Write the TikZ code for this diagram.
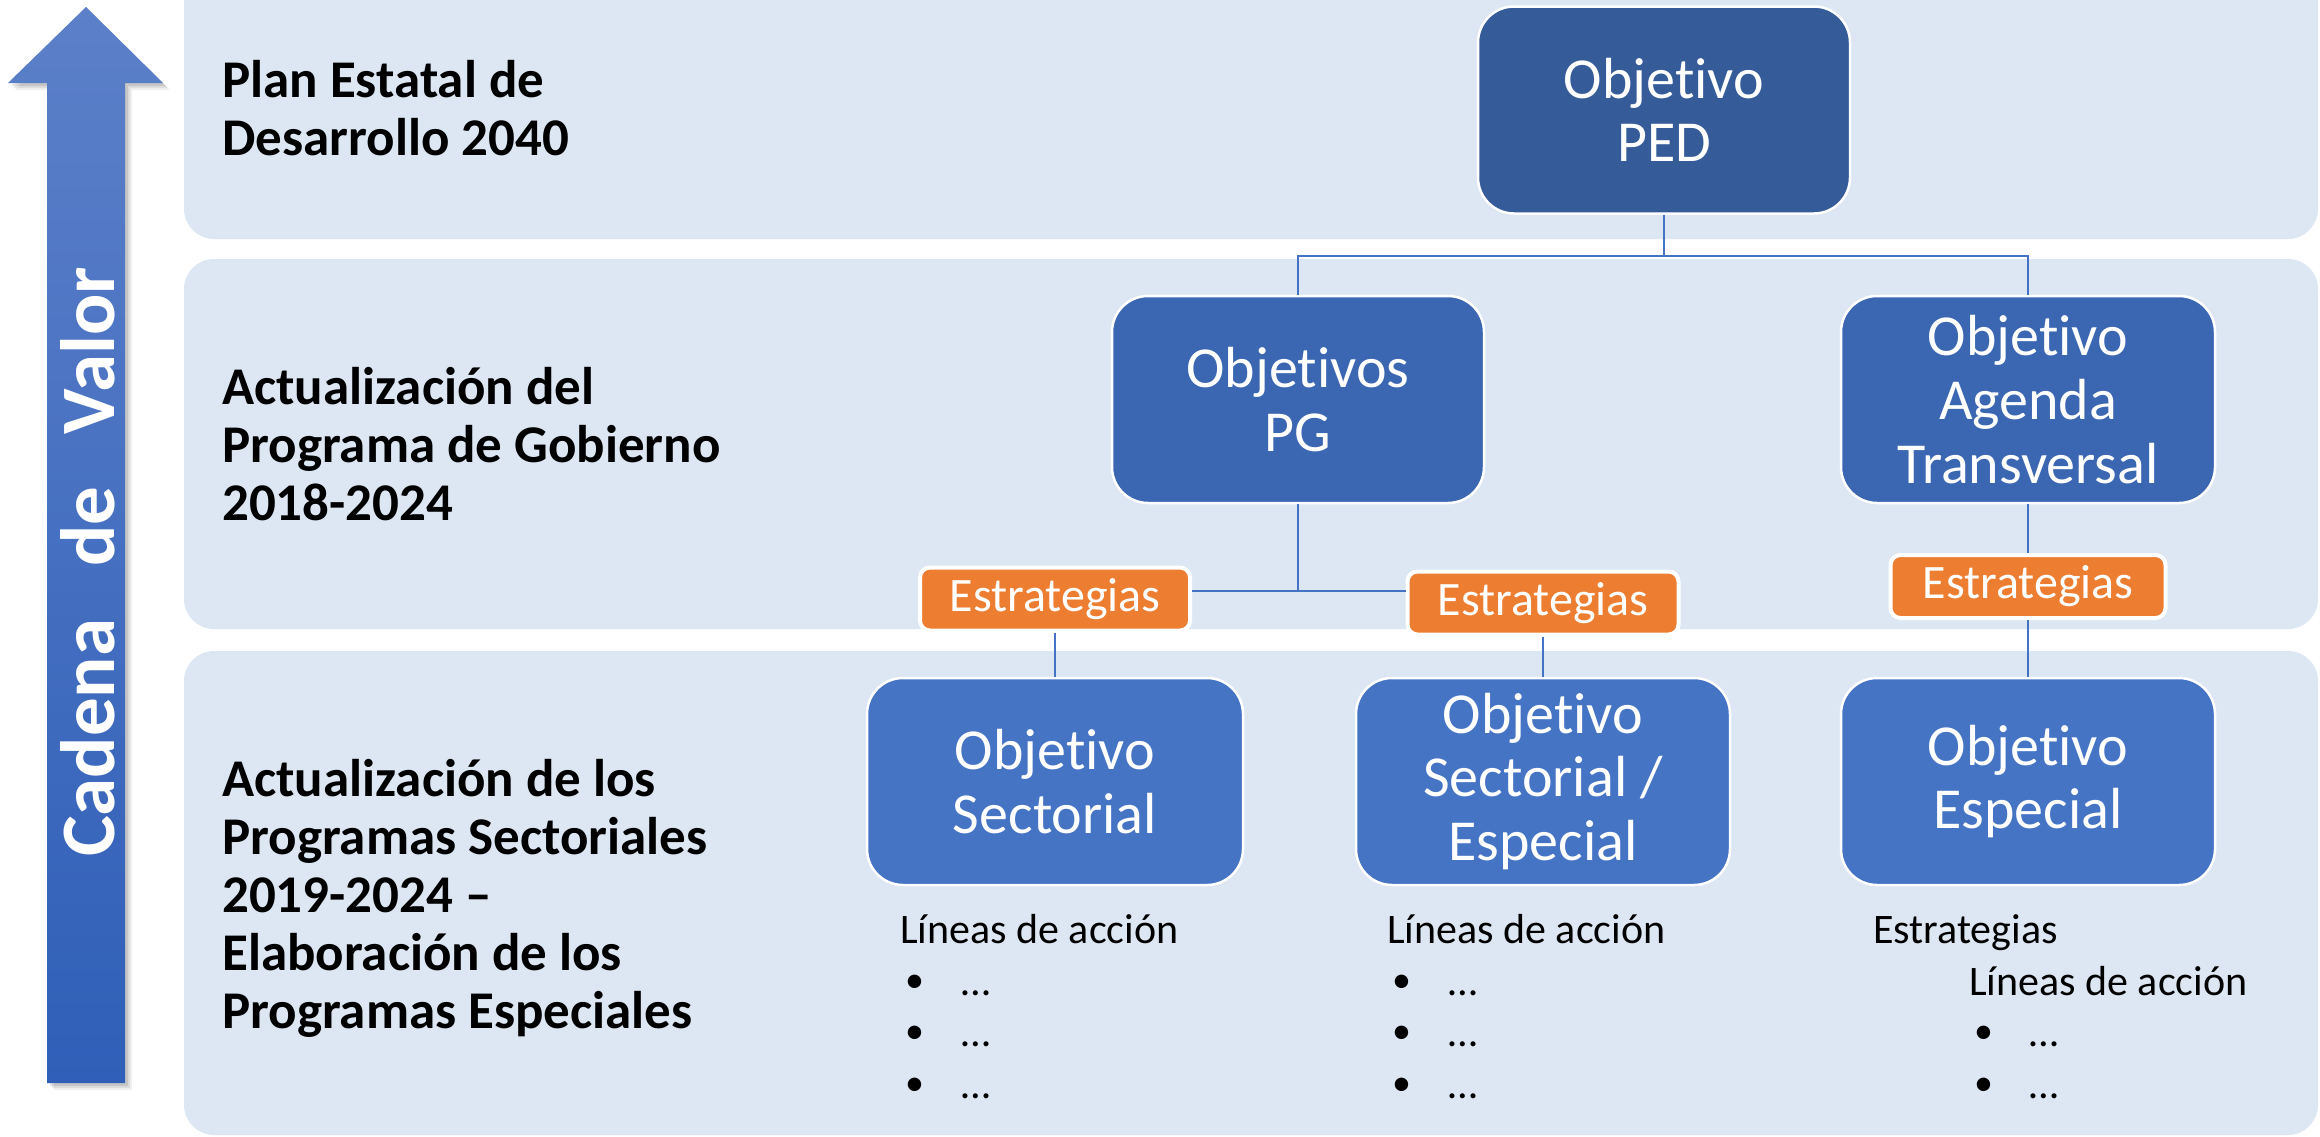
\documentclass[tikz,border=0pt]{standalone}
\usepackage{fontspec}
\setmainfont{Carlito}[Ligatures={NoCommon,NoContextual}]
\definecolor{bandc}{HTML}{DDE7F3}
\definecolor{pedc}{HTML}{355C99}
\definecolor{midc}{HTML}{3B66B1}
\definecolor{lowc}{HTML}{4674C5}
\definecolor{orc}{HTML}{ED7D31}
\definecolor{connc}{HTML}{4472C4}
\definecolor{arrtop}{HTML}{5C80C9}
\definecolor{arrbot}{HTML}{2F5FB8}
\begin{document}
\begin{tikzpicture}[x=1pt,y=-1pt,
  band/.style={fill=bandc, rounded corners=30pt},
  objbox/.style={rounded corners=36pt, draw=white, line width=2.5pt, text=white,
    align=center, minimum width=374pt, minimum height=207pt, inner sep=0pt,
    font=\fontsize{58pt}{63.7pt}\selectfont},
  estbox/.style={rounded corners=10pt, fill=orc, draw=white, line width=4pt, text=white,
    minimum height=63pt, inner sep=0pt, font=\fontsize{48pt}{52pt}\selectfont},
  conn/.style={draw=connc, line width=2pt},
  lbl/.style={anchor=base west, inner sep=0pt, font=\bfseries\fontsize{53pt}{58pt}\selectfont},
  lst/.style={anchor=base west, inner sep=0pt, font=\fontsize{42pt}{51pt}\selectfont},
  bul/.style={anchor=base west, inner sep=0pt, font=\fontsize{38pt}{51pt}\selectfont},
]
\useasboundingbox (0,0) rectangle (2320,1136);
\clip (0,0) rectangle (2320,1136);
\fill[white] (0,0) rectangle (2320,1136);

% bands
\path[band] (184,-40) rectangle (2318,239);
\path[band] (184,259) rectangle (2318,629);
\path[band] (184,651) rectangle (2318,1135);

% arrow shadow + arrow
\foreach \d/\o in {7/0.06,5/0.08,3/0.10}{
  \fill[black, opacity=\o, shift={(\d,\d)}] (86,7) -- (163,83) -- (125,83) -- (125,1083) -- (47,1083) -- (47,83) -- (8,83) -- cycle;
}
\path[top color=arrtop, bottom color=arrbot] (86,7) -- (163,83) -- (125,83) -- (125,1083) -- (47,1083) -- (47,83) -- (8,83) -- cycle;
\node[rotate=90, text=white, inner sep=0pt, font=\bfseries\fontsize{77pt}{80pt}\selectfont] (cv) at (88,562) {Cadena\ \ \ de\ \ \ Valor};

% band labels
\node[lbl] (l1a) at (222,97) {Plan Estatal de};
\node[lbl] (l1b) at (222,155) {Desarrollo 2040};
\node[lbl] (l2a) at (222,404) {Actualización del};
\node[lbl] (l2b) at (222,462) {Programa de Gobierno};
\node[lbl] (l2c) at (222,520) {2018-2024};
\node[lbl] (l3a) at (222,796) {Actualización de los};
\node[lbl] (l3b) at (222,854) {Programas Sectoriales};
\node[lbl] (l3c) at (222,912) {2019-2024 –};
\node[lbl] (l3d) at (222,970) {Elaboración de los};
\node[lbl] (l3e) at (222,1028) {Programas Especiales};

% objective boxes
\node[objbox, fill=pedc, minimum width=372pt] (ped) at (1664,110) {Objetivo\\PED};
\node[objbox, fill=midc, minimum width=372pt] (pg) at (1298,399.5) {Objetivos\\PG};
\node[objbox, fill=midc] (agenda) at (2028,399.5) {Objetivo\\Agenda\\Transversal};
\node[objbox, fill=lowc, minimum width=376pt] (sect) at (1055,781.5) {Objetivo\\Sectorial};
\node[objbox, fill=lowc] (sectesp) at (1543,781.5) {Objetivo\\Sectorial /\\Especial};
\node[objbox, fill=lowc] (esp) at (2028,781.5) {Objetivo\\Especial};

% estrategias boxes
\node[estbox, minimum width=270pt] (e1) at (1055,599) {Estrategias};
\node[estbox, minimum width=271pt] (e2) at (1543,603) {Estrategias};
\node[estbox, minimum width=275pt] (e3) at (2028,586.5) {Estrategias};

% connectors
\coordinate (jt) at (1664,256);
\coordinate (jb) at (1298,591);
\draw[conn] (ped.south) -- (jt);
\draw[conn] (pg.north) |- (jt) -| (agenda.north);
\draw[conn] (pg.south) -- (jb);
\draw[conn] (e1.east |- jb) -- (e2.west |- jb);
\draw[conn] (e1.south) -- (sect.north);
\draw[conn] (e2.south) -- (sectesp.north);
\draw[conn] (agenda.south) -- (e3.north);
\draw[conn] (e3.south) -- (esp.north);

% lists
\node[lst] (t1) at (900,943) {Líneas de acción};
\node[bul] (t1b1) at (905,992) {•};  \node[lst] (t1e1) at (961,995) {…};
\node[bul] (t1b2) at (905,1043) {•}; \node[lst] (t1e2) at (961,1046) {…};
\node[bul] (t1b3) at (905,1095) {•}; \node[lst] (t1e3) at (961,1098) {…};

\node[lst] (t2) at (1387,943) {Líneas de acción};
\node[bul] (t2b1) at (1392,992) {•};  \node[lst] (t2e1) at (1448,995) {…};
\node[bul] (t2b2) at (1392,1043) {•}; \node[lst] (t2e2) at (1448,1046) {…};
\node[bul] (t2b3) at (1392,1095) {•}; \node[lst] (t2e3) at (1448,1098) {…};

\node[lst] (t3) at (1873,943) {Estrategias};
\node[lst] (t3l) at (1969,995) {Líneas de acción};
\node[bul] (t3b1) at (1974,1043) {•}; \node[lst] (t3e1) at (2029,1046) {…};
\node[bul] (t3b2) at (1974,1095) {•}; \node[lst] (t3e2) at (2029,1098) {…};
\end{tikzpicture}
\end{document}
